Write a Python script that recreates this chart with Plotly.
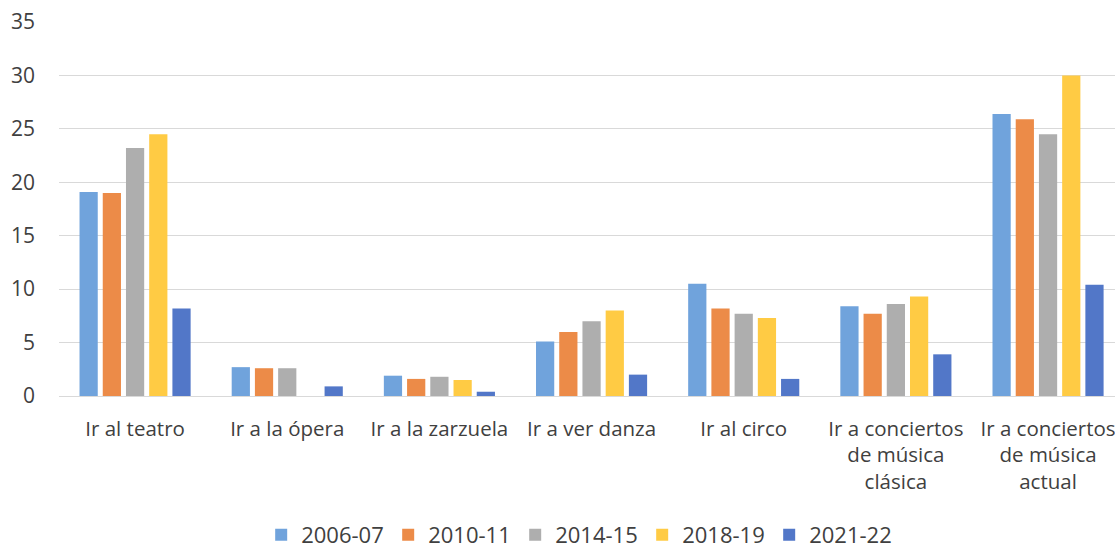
import plotly.graph_objects as go

categories = ["Ir al teatro", "Ir a la ópera", "Ir a la zarzuela", "Ir a ver danza",
              "Ir al circo", "Ir a conciertos<br>de música<br>clásica",
              "Ir a conciertos<br>de música<br>actual"]
series_names = ["2006-07", "2010-11", "2014-15", "2018-19", "2021-22"]
v_2006_07 = [19.1, 2.7, 1.9, 5.1, 10.5, 8.4, 26.4]
v_2010_11 = [19.0, 2.6, 1.6, 6.0, 8.2, 7.7, 25.9]
v_2014_15 = [23.2, 2.6, 1.8, 7.0, 7.7, 8.6, 24.5]
v_2018_19 = [24.5, 0.0, 1.5, 8.0, 7.3, 9.3, 30.0]
v_2021_22 = [8.2, 0.9, 0.4, 2.0, 1.6, 3.9, 10.4]
colors = ["#70A3DC", "#EC8B48", "#AEAEAE", "#FFCB44", "#5277C8"]
y_ticks = [0, 5, 10, 15, 20, 25, 30, 35]

values = [v_2006_07, v_2010_11, v_2014_15, v_2018_19, v_2021_22]

fig = go.Figure()
for name, vals, col in zip(series_names, values, colors):
    fig.add_trace(go.Bar(x=categories, y=vals, name=name, marker=dict(color=col, line=dict(width=0))))

fig.update_layout(
    width=1115, height=556,
    margin=dict(l=59, r=0, t=22, b=160),
    paper_bgcolor="white", plot_bgcolor="white",
    font=dict(family="Open Sans, sans-serif", size=21, color="#404040"),
    barmode="group", bargap=0.237, bargroupgap=0.215,
    showlegend=True,
    legend=dict(orientation="h", x=0.519, xanchor="center", xref="container",
                y=-0.01, yanchor="bottom", yref="container",
                font=dict(size=22, color="#404040"), itemwidth=30, tracegroupgap=0,
                entrywidth=82, entrywidthmode="pixels"),
    xaxis=dict(showgrid=False, showline=False, ticks="", tickangle=0, automargin=False,
               range=[-0.5, 6.44], ticklabelstandoff=18, tickfont=dict(size=20.5)),
    yaxis=dict(range=[0, 35], tickvals=y_ticks, showgrid=True, gridcolor="#D9D9D9", gridwidth=1,
               zeroline=True, zerolinecolor="#D9D9D9", zerolinewidth=1, showline=False,
               ticks="", ticklabelstandoff=23, automargin=False),
)

fig.write_html("out.html", config={"displayModeBar": False},
               post_script="document.body.style.margin='0';")
